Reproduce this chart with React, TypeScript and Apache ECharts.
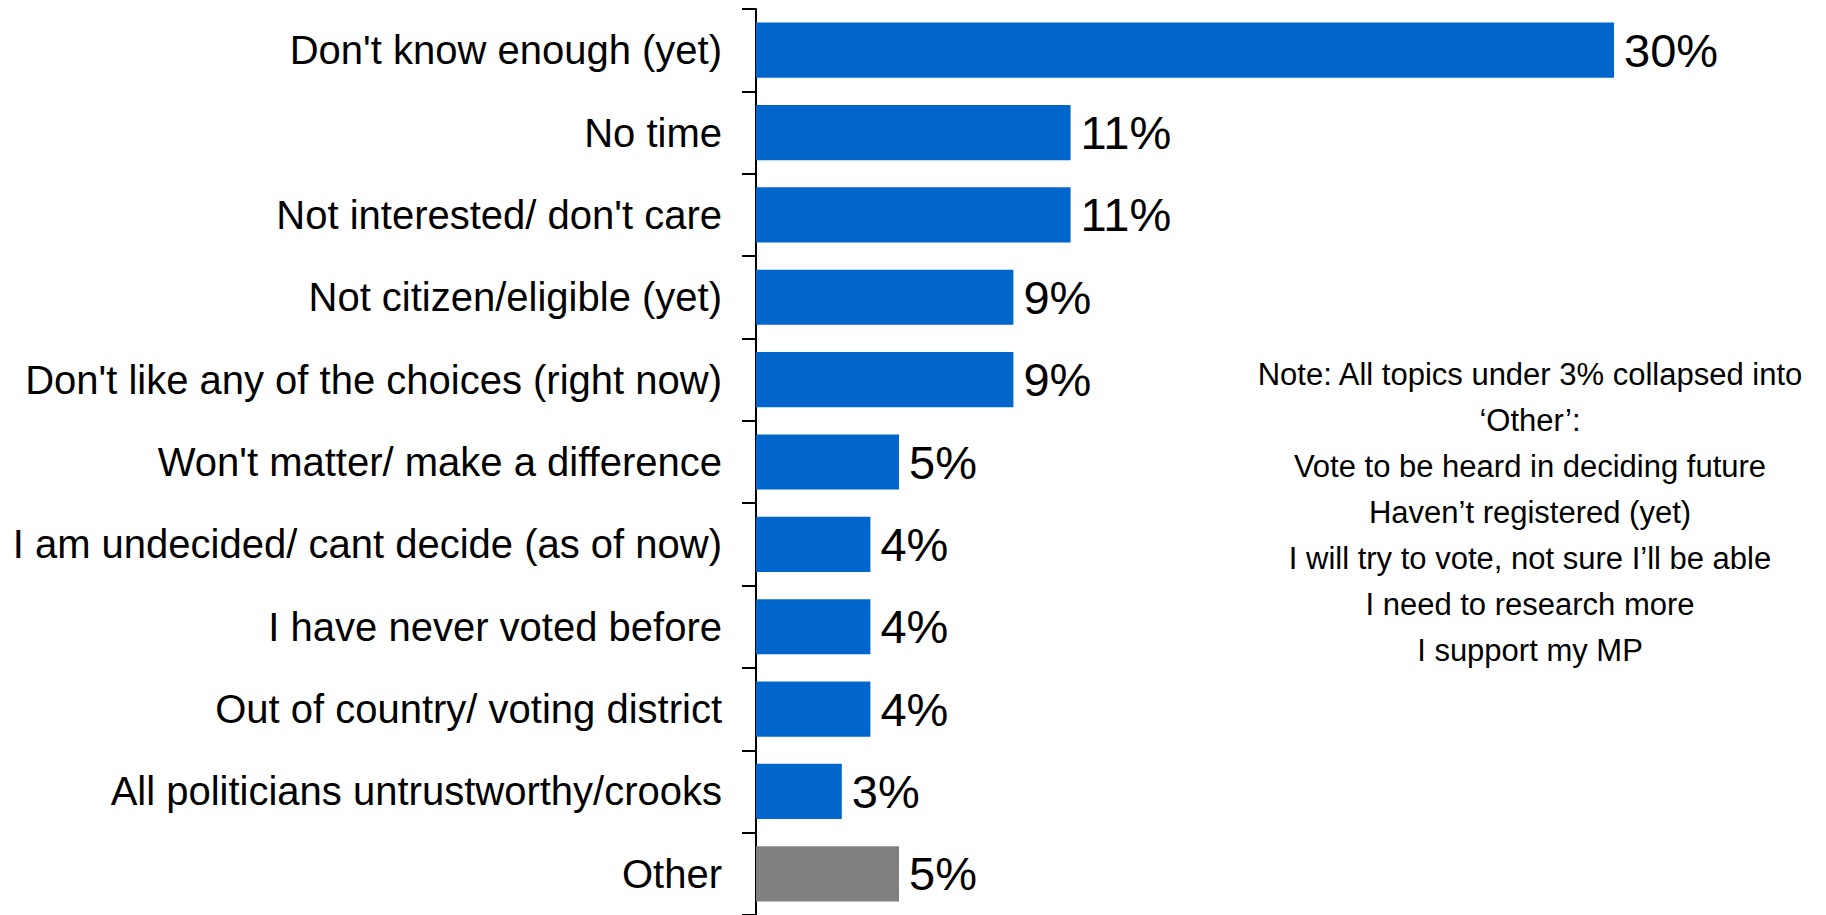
import React, { useEffect, useRef } from "react";
import * as echarts from "echarts";

const categories: string[] = [
  "Don't know enough (yet)",
  "No time",
  "Not interested/ don't care",
  "Not citizen/eligible (yet)",
  "Don't like any of the choices (right now)",
  "Won't matter/ make a difference",
  "I am undecided/ cant decide (as of now)",
  "I have never voted before",
  "Out of country/ voting district",
  "All politicians untrustworthy/crooks",
  "Other",
];

const values: number[] = [30, 11, 11, 9, 9, 5, 4, 4, 4, 3, 5];

const noteLines: string[] = [
  "Note: All topics under 3% collapsed into",
  "\u2018Other\u2019:",
  "Vote to be heard in deciding future",
  "Haven\u2019t registered (yet)",
  "I will try to vote, not sure I\u2019ll be able",
  "I need to research more",
  "I support my MP",
];

const BLUE = "#0066CC";
const GRAY = "#808080";
const FONT = "'Liberation Sans', Arial, Helvetica, sans-serif";

export default function App() {
  const ref = useRef<HTMLDivElement>(null);

  useEffect(() => {
    if (!ref.current) return;
    const chart = echarts.init(ref.current, undefined, { renderer: "svg" });
    chart.setOption({
      animation: false,
      backgroundColor: "#ffffff",
      textStyle: { fontFamily: FONT },
      grid: { left: 756, top: 9, width: 858, height: 910, containLabel: false },
      xAxis: {
        type: "value",
        min: 0,
        max: 30,
        show: false,
      },
      yAxis: {
        type: "category",
        data: categories,
        inverse: true,
        axisLine: { show: true, lineStyle: { color: "#000", width: 2 } },
        axisTick: { show: true, length: 14, lineStyle: { color: "#000", width: 2 } },
        axisLabel: {
          color: "#000",
          fontSize: 40,
          fontFamily: FONT,
          margin: 34,
        },
        splitLine: { show: false },
      },
      series: [
        {
          type: "bar",
          data: values.map((v, i) => ({
            value: v,
            itemStyle: { color: categories[i] === "Other" ? GRAY : BLUE },
          })),
          barCategoryGap: "33%",
          label: {
            show: true,
            position: "right",
            distance: 10,
            formatter: "{c}%",
            color: "#000",
            fontSize: 47,
            fontFamily: FONT,
          },
        },
      ],
      graphic: [
        {
          type: "text",
          x: 1530,
          y: 351,
          style: {
            text: noteLines.join("\n"),
            textAlign: "center",
            textVerticalAlign: "top",
            fontSize: 31,
            lineHeight: 46,
            fontFamily: FONT,
            fill: "#000",
          },
        },
      ],
    });
    return () => chart.dispose();
  }, []);

  return (
    <div
      ref={ref}
      style={{ position: "absolute", left: 0, top: 0, width: 1826, height: 915, background: "#fff" }}
    />
  );
}
